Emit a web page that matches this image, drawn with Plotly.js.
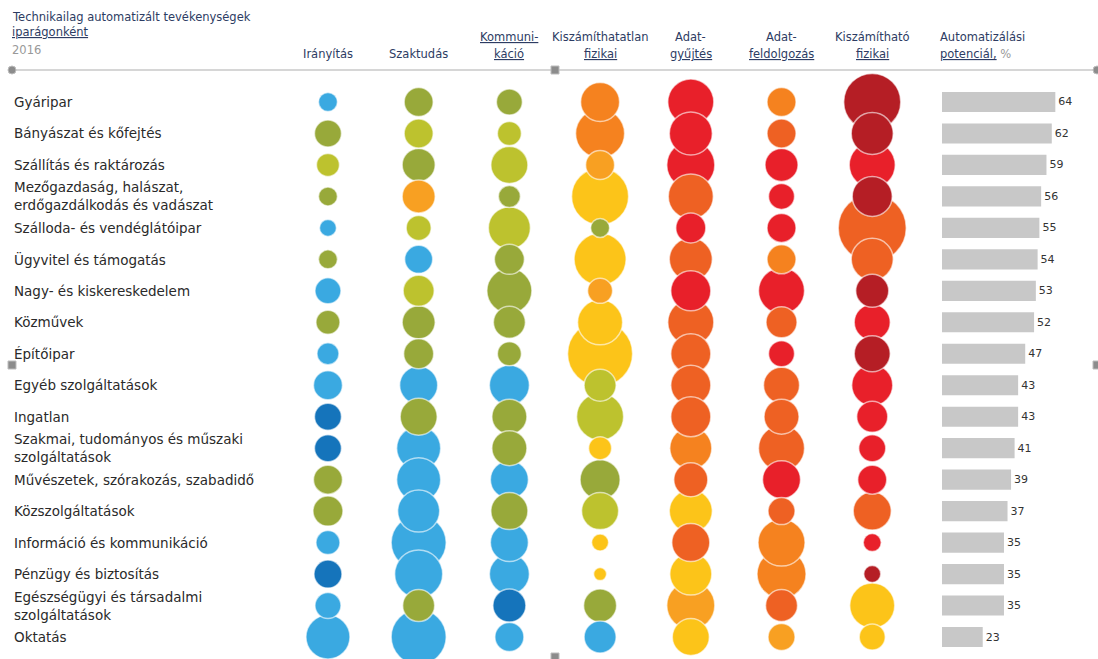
<!DOCTYPE html>
<html>
<head>
<meta charset="utf-8">
<script src="https://cdn.plot.ly/plotly-3.0.1.min.js"></script>
<style>html,body{margin:0;padding:0;background:#fff;}#chart{width:1098px;height:659px;}</style>
</head>
<body>
<div id="chart"></div>
<script>
// ---------- DATA ----------
const industries = [
  "Gyáripar",
  "Bányászat és kőfejtés",
  "Szállítás és raktározás",
  "Mezőgazdaság, halászat,<br>erdőgazdálkodás és vadászat",
  "Szálloda- és vendéglátóipar",
  "Ügyvitel és támogatás",
  "Nagy- és kiskereskedelem",
  "Közművek",
  "Építőipar",
  "Egyéb szolgáltatások",
  "Ingatlan",
  "Szakmai, tudományos és műszaki<br>szolgáltatások",
  "Művészetek, szórakozás, szabadidő",
  "Közszolgáltatások",
  "Információ és kommunikáció",
  "Pénzügy és biztosítás",
  "Egészségügyi és társadalmi<br>szolgáltatások",
  "Oktatás"
];
const activities = ["Irányítás","Szaktudás","Kommunikáció","Kiszámíthatatlan fizikai","Adatgyűjtés","Adatfeldolgozás","Kiszámítható fizikai"];
const headerTop = ["", "", "<u>Kommuni-</u>", "Kiszámíthatatlan", "Adat-", "Adat-", "Kiszámítható"];
const headerBottom = ["Irányítás", "Szaktudás", "<u>káció</u>", "<u>fizikai</u>", "<u>gyűjtés</u>", "<u>feldolgozás</u>", "<u>fizikai</u>"];

// bubble sizes (relative)
const sizeIranyitas   = [19,27,23,19,17,19,26,24,22,29,27,27,29,30,24,28,26,44];
const sizeSzaktudas   = [29,29,33,33,25,28,31,33,30,38,37,44,44,42,55,48,32,55];
const sizeKommunikacio= [26,24,37,22,42,30,45,32,24,40,35,35,38,37,38,40,33,29];
const sizeKiszFizikai = [39,49,29,57,19,52,25,45,65,32,47,23,40,37,17,13,33,32];
const sizeAdatgyujtes = [46,43,48,45,30,43,40,46,40,40,40,42,34,43,38,42,48,37];
const sizeAdatfeld    = [29,29,33,26,29,29,46,31,26,36,35,46,38,27,47,49,32,27];
const sizeKiszamFiz   = [57,42,46,40,68,42,33,36,36,41,31,27,29,38,18,17,45,26];

// colour levels (1 = dark blue ... 10 = dark red)
const lvlIranyitas    = [2,3,4,3,2,3,2,3,2,2,1,1,3,3,2,1,2,2];
const lvlSzaktudas    = [3,4,3,6,4,2,4,3,3,2,3,2,2,2,2,2,3,2];
const lvlKommunikacio = [3,4,4,3,4,3,3,3,3,2,3,3,2,3,2,2,1,2];
const lvlKiszFizikai  = [7,7,6,5,3,5,6,5,5,4,4,5,3,4,5,5,3,2];
const lvlAdatgyujtes  = [9,9,9,8,9,8,9,8,8,8,8,7,8,5,8,5,6,5];
const lvlAdatfeld     = [7,8,9,9,9,7,9,8,9,8,8,8,9,8,7,7,8,6];
const lvlKiszamFiz    = [10,10,9,10,8,8,10,9,10,9,9,9,9,8,9,10,5,5];

const potential = [64,62,59,56,55,54,53,52,47,43,43,41,39,37,35,35,35,23];

const palette = {1:"#1574BB",2:"#3AA9E1",3:"#98A93A",4:"#BDC22E",5:"#FCC419",6:"#F8A022",7:"#F5821F",8:"#EE6123",9:"#E8202A",10:"#B51E25"};

// ---------- BUILD ----------
const W = 1098, H = 659;
const px = x => x / W;
const py = y => 1 - y / H;

const sizes = [sizeIranyitas,sizeSzaktudas,sizeKommunikacio,sizeKiszFizikai,sizeAdatgyujtes,sizeAdatfeld,sizeKiszamFiz];
const levels = [lvlIranyitas,lvlSzaktudas,lvlKommunikacio,lvlKiszFizikai,lvlAdatgyujtes,lvlAdatfeld,lvlKiszamFiz];

const traces = [];
activities.forEach((act, c) => {
  const idx = industries.map((_, i) => i).sort((a, b) => sizes[c][b] - sizes[c][a]);
  traces.push({
    type: "scatter", mode: "markers", xaxis: "x", yaxis: "y",
    x: idx.map(() => act),
    y: idx.map(i => industries[i]),
    marker: {
      size: idx.map(i => sizes[c][i]), sizemode: "diameter", sizeref: 1,
      color: idx.map(i => palette[levels[c][i]]), opacity: 1,
      line: {color: "rgba(255,255,255,0.6)", width: 1.5}
    },
    hoverinfo: "skip", showlegend: false, cliponaxis: false
  });
});

traces.push({
  type: "bar", orientation: "h", xaxis: "x2", yaxis: "y",
  x: potential, y: industries,
  marker: {color: "#C8C8C8"},
  text: potential.map(String), textposition: "outside",
  textfont: {family: "DejaVu Sans", size: 11, color: "#333"},
  cliponaxis: false, showlegend: false, hoverinfo: "skip"
});

const navy = "#2D3C63";
const hf = {family: "DejaVu Sans", size: 11.5, color: navy};
const annotations = [];
// row labels
industries.forEach(name => annotations.push({
  xref: "paper", yref: "y", x: px(12), y: name, xanchor: "left", yanchor: "middle",
  text: name, showarrow: false, align: "left",
  font: {family: "DejaVu Sans", size: 13.5, color: "#2a2a2a"}
}));
// column headers
activities.forEach((act, c) => {
  if (headerTop[c]) annotations.push({
    xref: "x", yref: "paper", x: act, y: py(37), xanchor: "center", yanchor: "middle",
    text: headerTop[c], showarrow: false, font: hf
  });
  annotations.push({
    xref: "x", yref: "paper", x: act, y: py(54), xanchor: "center", yanchor: "middle",
    text: headerBottom[c], showarrow: false, font: hf
  });
});
annotations.push(
  {xref:"paper",yref:"paper",x:px(938),y:py(37),xanchor:"left",yanchor:"middle",showarrow:false,
   text:"Automatizálási",font:hf},
  {xref:"paper",yref:"paper",x:px(938),y:py(54),xanchor:"left",yanchor:"middle",showarrow:false,
   text:"<u>potenciál,</u> <span style='color:#999'>%</span>",font:hf},
  {xref:"paper",yref:"paper",x:px(10),y:py(17),xanchor:"left",yanchor:"middle",showarrow:false,
   text:"Technikailag automatizált tevékenységek",font:hf},
  {xref:"paper",yref:"paper",x:px(10),y:py(32),xanchor:"left",yanchor:"middle",showarrow:false,
   text:"<u>iparágonként</u>",font:hf},
  {xref:"paper",yref:"paper",x:px(10),y:py(50),xanchor:"left",yanchor:"middle",showarrow:false,
   text:"2016",font:{family:"DejaVu Sans",size:11.5,color:"#999"}}
);

const handle = (x, y, circle) => ({
  type: circle ? "circle" : "rect", xref: "paper", yref: "paper",
  x0: px(x - 4), x1: px(x + 4), y0: py(y + 4), y1: py(y - 4),
  fillcolor: "#8C8C8C", line: {color: "#BDBDBD", width: 1}
});

const shapes = [
  {type:"line",xref:"paper",yref:"paper",x0:px(12),x1:1,y0:py(70),y1:py(70),line:{color:"#C8C8C8",width:1.5}},
  handle(12,70,true), handle(555,70,false), handle(1097,70,true),
  handle(12,365,false), handle(1097,365,false), handle(555,657,false)
];

const layout = {
  width: W, height: H,
  margin: {l: 0, r: 0, t: 0, b: 0},
  paper_bgcolor: "#fff", plot_bgcolor: "rgba(0,0,0,0)",
  showlegend: false, bargap: 0.36,
  xaxis: {type: "category", categoryarray: activities, categoryorder: "array",
          range: [-0.5, 6.5], domain: [px(282.6), px(917.6)],
          showticklabels: false, showgrid: false, zeroline: false, showline: false, ticks: "", fixedrange: true},
  xaxis2: {range: [0, 88.1], domain: [px(942), 1], anchor: "y",
           showticklabels: false, showgrid: false, zeroline: false, showline: false, ticks: "", fixedrange: true},
  yaxis: {type: "category", categoryarray: industries, categoryorder: "array",
          range: [17.5, -0.5], domain: [py(652.75), py(86.25)],
          showticklabels: false, showgrid: false, zeroline: false, showline: false, ticks: "", fixedrange: true},
  annotations: annotations,
  shapes: shapes
};

Plotly.newPlot("chart", traces, layout, {displayModeBar: false, staticPlot: true});
</script>
</body>
</html>
